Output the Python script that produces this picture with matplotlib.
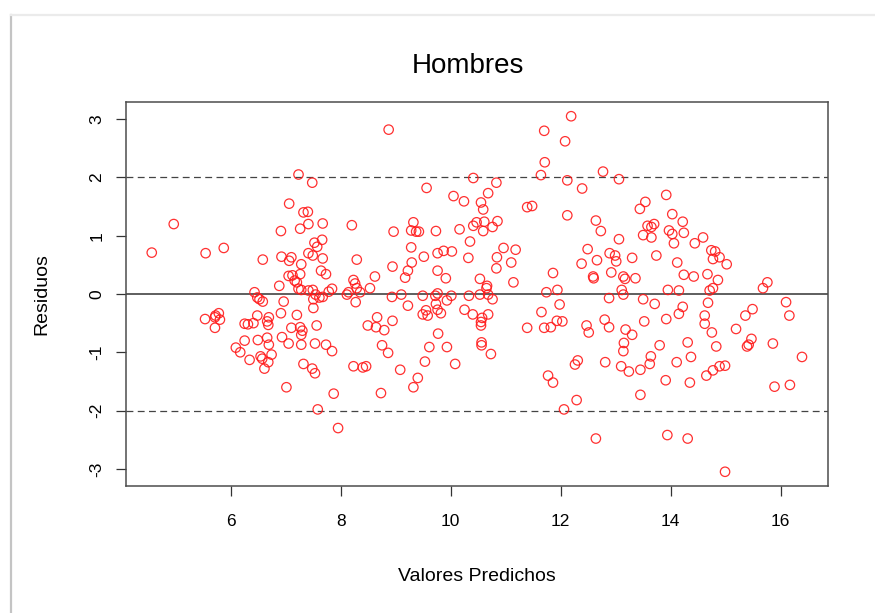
import matplotlib.pyplot as plt
from matplotlib.lines import Line2D

# Valores (predichos vs residuos)
predichos = [
    4.56, 4.96, 5.54, 5.87, 5.53, 5.72, 5.78, 5.80, 5.71, 5.71,
    7.23, 7.06, 7.32, 7.40, 7.41, 7.26, 6.91, 7.41, 6.58, 6.92, 7.10, 7.06, 7.28, 7.05, 7.12,
    7.16, 7.26, 7.20, 6.88, 7.23, 7.28, 7.41, 6.43, 6.48, 6.52, 6.58, 6.96, 6.91, 7.20, 6.48,
    6.69, 6.66, 6.68, 6.25, 6.31, 6.41, 7.10, 7.26, 7.30, 7.28, 6.93, 7.05, 7.28, 6.49, 6.25,
    6.69, 6.66, 6.09, 6.17, 6.34, 6.54, 6.57, 6.74, 6.68, 6.61, 7.32, 7.01,
    8.87, 7.48, 7.67, 8.20, 8.96, 7.52, 7.66, 7.57, 7.49, 7.67, 8.29, 7.64, 7.73, 8.94, 8.62,
    8.23, 8.26, 8.29, 8.35, 8.53, 7.49, 7.54, 7.61, 7.67, 7.78, 7.84, 7.50, 8.11, 8.14, 8.27,
    8.93, 7.50, 7.56, 8.66, 8.49, 8.64, 8.79, 8.94, 7.53, 7.73, 7.84, 8.75, 8.86, 7.48, 7.53,
    8.23, 8.40, 8.46, 7.87, 8.73, 7.58, 7.95,
    10.41, 9.56, 10.05, 10.24, 10.59, 10.47, 10.61, 10.59, 10.41, 9.32, 9.28, 9.37, 9.42, 9.73,
    10.16, 10.35, 9.28, 9.51, 9.76, 9.87, 10.02, 10.32, 9.29, 9.22, 9.17, 9.76, 9.91, 10.53,
    10.65, 9.10, 9.49, 9.72, 9.76, 9.93, 10.01, 10.33, 10.53, 10.68, 9.22, 9.73, 9.76, 9.82,
    9.49, 9.55, 9.58, 10.25, 10.40, 10.57, 10.55, 9.77, 9.61, 9.93, 9.53, 10.08, 9.08, 9.40, 9.32,
    12.19, 11.70, 12.08, 11.71, 11.64, 12.12, 10.83, 10.68, 10.55, 11.39, 11.48, 12.12, 10.85,
    10.76, 10.96, 11.18, 10.84, 11.10, 10.83, 11.86, 11.14, 10.66, 11.74, 11.94, 10.76, 11.98,
    11.65, 10.68, 10.55, 12.03, 11.93, 11.39, 11.70, 11.82, 10.56, 10.56, 10.73, 12.31, 12.26,
    11.77, 11.86, 12.29, 12.06,
    12.77, 13.06, 12.39, 13.92, 13.54, 13.44, 12.64, 12.73, 13.58, 13.65, 13.70, 13.50, 13.65,
    13.97, 13.06, 12.49, 12.89, 12.99, 13.01, 12.66, 12.38, 13.30, 13.74, 12.92, 12.59, 12.60,
    13.14, 13.17, 13.36, 13.11, 13.14, 13.95, 12.88, 13.50, 13.71, 12.80, 12.88, 12.47, 12.51,
    13.52, 13.92, 13.18, 13.30, 13.15, 13.14, 13.80, 13.64, 13.62, 12.81, 13.10, 13.24, 13.45,
    13.91, 13.45, 12.64, 13.94,
    14.03, 14.22, 14.24, 14.03, 14.06, 14.44, 14.59, 14.74, 14.81, 14.77, 14.89, 15.02, 14.12,
    14.24, 14.42, 14.67, 14.86, 14.77, 14.71, 14.15, 15.68, 14.22, 14.15, 14.68, 14.62, 14.62,
    14.75, 15.36, 15.49, 15.19, 14.31, 14.83, 15.39, 15.42, 15.47, 14.11, 14.37, 14.65, 14.77,
    14.89, 14.99, 14.35, 14.31, 14.99,
    15.76, 16.10, 16.16, 15.86, 16.39, 15.89, 16.17,
]

residuos = [
    0.71, 1.20, 0.70, 0.79, -0.43, -0.37, -0.33, -0.44, -0.40, -0.58,
    2.05, 1.55, 1.40, 1.41, 1.20, 1.12, 1.08, 0.70, 0.59, 0.64, 0.63, 0.57, 0.51, 0.31, 0.32,
    0.23, 0.34, 0.20, 0.14, 0.09, 0.07, 0.06, 0.03, -0.06, -0.09, -0.13, -0.13, -0.33, -0.36, -0.37,
    -0.40, -0.47, -0.53, -0.51, -0.52, -0.50, -0.58, -0.57, -0.63, -0.70, -0.74, -0.85, -0.87, -0.79, -0.80,
    -0.87, -0.75, -0.92, -1.00, -1.13, -1.07, -1.11, -1.04, -1.17, -1.28, -1.20, -1.60,
    2.82, 1.91, 1.21, 1.18, 1.07, 0.88, 0.93, 0.81, 0.66, 0.61, 0.59, 0.40, 0.34, 0.47, 0.30,
    0.24, 0.18, 0.10, 0.03, 0.10, 0.07, -0.01, -0.06, -0.05, 0.04, 0.09, -0.09, -0.01, 0.03, -0.14,
    -0.05, -0.24, -0.54, -0.40, -0.54, -0.57, -0.62, -0.46, -0.85, -0.87, -0.98, -0.88, -1.01, -1.28, -1.36,
    -1.24, -1.26, -1.24, -1.71, -1.70, -1.98, -2.30,
    1.99, 1.82, 1.68, 1.59, 1.45, 1.23, 1.24, 1.08, 1.17, 1.23, 1.09, 1.07, 1.07, 1.08,
    1.11, 0.90, 0.80, 0.64, 0.70, 0.74, 0.73, 0.62, 0.54, 0.40, 0.28, 0.40, 0.27, 0.26,
    0.10, -0.01, -0.03, -0.03, 0.01, -0.11, -0.03, -0.03, -0.01, -0.01, -0.20, -0.17, -0.27, -0.33,
    -0.35, -0.28, -0.37, -0.27, -0.35, -0.41, -0.48, -0.68, -0.91, -0.91, -1.16, -1.20, -1.30, -1.44, -1.60,
    3.05, 2.80, 2.62, 2.26, 2.04, 1.95, 1.91, 1.73, 1.57, 1.49, 1.51, 1.35, 1.25,
    1.15, 0.79, 0.76, 0.63, 0.54, 0.44, 0.36, 0.20, 0.14, 0.03, 0.07, -0.09, -0.18,
    -0.31, -0.35, -0.54, -0.47, -0.46, -0.58, -0.58, -0.57, -0.83, -0.88, -1.03, -1.14, -1.21,
    -1.40, -1.52, -1.82, -1.98,
    2.10, 1.97, 1.81, 1.70, 1.58, 1.46, 1.26, 1.08, 1.17, 1.15, 1.20, 1.01, 0.97,
    1.09, 0.94, 0.77, 0.70, 0.66, 0.56, 0.58, 0.52, 0.62, 0.66, 0.37, 0.30, 0.27,
    0.30, 0.26, 0.27, 0.07, -0.01, 0.07, -0.07, -0.09, -0.17, -0.44, -0.57, -0.54, -0.66,
    -0.47, -0.43, -0.61, -0.70, -0.84, -0.98, -0.88, -1.07, -1.20, -1.17, -1.24, -1.33, -1.30,
    -1.48, -1.73, -2.48, -2.42,
    1.37, 1.24, 1.05, 1.03, 0.87, 0.87, 0.97, 0.75, 0.73, 0.60, 0.63, 0.51, 0.54,
    0.33, 0.30, 0.34, 0.24, 0.10, 0.06, 0.06, 0.10, -0.22, -0.34, -0.15, -0.37, -0.51,
    -0.66, -0.37, -0.26, -0.60, -0.83, -0.90, -0.90, -0.87, -0.77, -1.17, -1.08, -1.40, -1.31,
    -1.24, -1.23, -1.52, -2.48, -3.05,
    0.20, -0.14, -0.37, -0.85, -1.08, -1.59, -1.56,
]

x_ticks = [6, 8, 10, 12, 14, 16]
y_ticks = [-3, -2, -1, 0, 1, 2, 3]
lineas_ref = [-2, 2]

plt.rcParams['font.family'] = ['Liberation Sans', 'DejaVu Sans']
plt.rcParams['axes.unicode_minus'] = False

fig = plt.figure(figsize=(8.75, 6.13), dpi=100)
ax = fig.add_axes([0.1437, 0.2072, 0.8026, 0.6264])

ax.scatter(predichos, residuos, s=46, facecolors='none', edgecolors='#ff1a1a',
           linewidths=0.9, alpha=0.9, zorder=3)

ax.axhline(0, color='#333333', lw=1.1, zorder=2)
for h in lineas_ref:
    ax.axhline(h, color='#444444', lw=0.9, linestyle=(0, (5.5, 3.5)), zorder=2)

# rango de datos + 4% como en R
x_min, x_max = min(predichos), max(predichos)
y_min, y_max = min(residuos), max(residuos)
dx = (x_max - x_min) * 0.04
dy = (y_max - y_min) * 0.04
ax.set_xlim(x_min - dx, x_max + dx)
ax.set_ylim(y_min - dy, y_max + dy)

ax.set_xticks(x_ticks)
ax.set_yticks(y_ticks)
ax.tick_params(axis='both', direction='out', length=7.5, width=0.9, color='#333333',
               labelsize=12.5)
ax.tick_params(axis='x', pad=13)
ax.tick_params(axis='y', pad=8, labelrotation=90)
for lbl in ax.get_yticklabels():
    lbl.set_va('center')

for sp in ax.spines.values():
    sp.set_color('#4d4d4d')
    sp.set_linewidth(1.1)

ax.set_xlabel('Valores Predichos', fontsize=14, labelpad=28)
ax.set_ylabel('Residuos', fontsize=14, labelpad=28)
fig.text(468 / 875, 1 - 73 / 613, 'Hombres', fontsize=20, ha='center', va='baseline')

# marco tipo captura de pantalla
fig.add_artist(Line2D([10.5 / 875, 10.5 / 875], [0, 1 - 15 / 613], transform=fig.transFigure,
                      color='#c4c4c4', lw=1.6))
fig.add_artist(Line2D([10.5 / 875, 1], [1 - 15 / 613, 1 - 15 / 613], transform=fig.transFigure,
                      color='#ebebeb', lw=1.6))

fig.savefig('out.png', dpi=100)
